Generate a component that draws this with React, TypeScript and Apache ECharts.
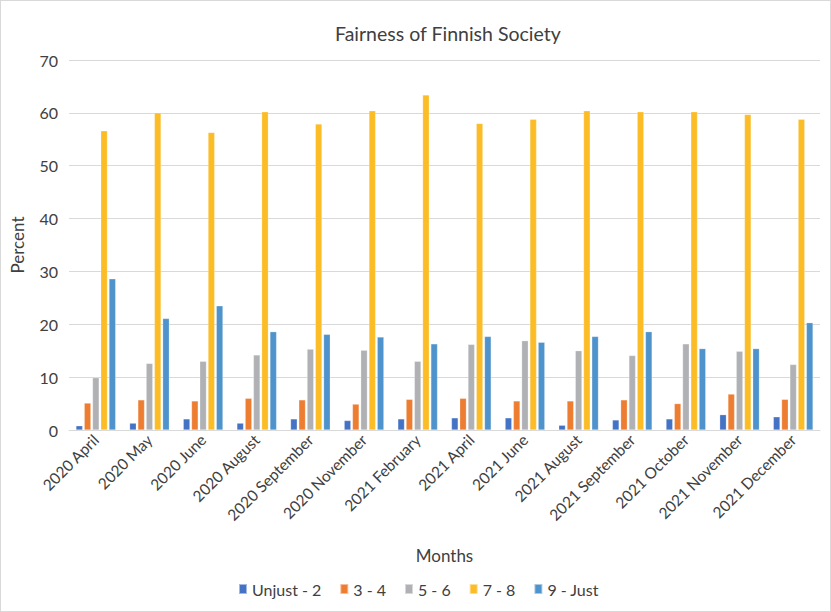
import React, { useEffect, useRef } from "react";
import * as echarts from "echarts";

const categories = [
  "2020 April", "2020 May", "2020 June", "2020 August", "2020 September",
  "2020 November", "2021 February", "2021 April", "2021 June", "2021 August",
  "2021 September", "2021 October", "2021 November", "2021 December",
];
const unjust2 = [0.8, 1.3, 2.1, 1.3, 2.1, 1.8, 2.1, 2.3, 2.3, 0.9, 1.9, 2.1, 2.9, 2.5];
const v34 = [5.1, 5.7, 5.5, 6.0, 5.7, 4.9, 5.8, 6.0, 5.5, 5.5, 5.7, 5.0, 6.8, 5.8];
const v56 = [9.9, 12.6, 13.0, 14.2, 15.3, 15.1, 13.0, 16.2, 16.9, 15.0, 14.1, 16.3, 14.9, 12.4];
const v78 = [56.6, 60.0, 56.3, 60.2, 57.9, 60.4, 63.4, 58.0, 58.8, 60.4, 60.2, 60.2, 59.7, 58.8];
const just9 = [28.6, 21.1, 23.5, 18.6, 18.1, 17.6, 16.3, 17.7, 16.6, 17.7, 18.6, 15.4, 15.4, 20.3];
const seriesNames = ["Unjust - 2", "3 - 4", "5 - 6", "7 - 8", "9 - Just"];
const seriesData = [unjust2, v34, v56, v78, just9];
const colors = ["#4472C4", "#ED7D31", "#B0B1B4", "#FBBC26", "#4E93CB"];

const FONT = "Lato, 'Open Sans', sans-serif";

export default function App() {
  const ref = useRef<HTMLDivElement>(null);
  useEffect(() => {
    document.body.style.margin = "0";
    if (!ref.current) return;
    const chart = echarts.init(ref.current, undefined, { renderer: "svg" });
    chart.setOption({
      animation: false,
      color: colors,
      textStyle: { fontFamily: FONT },
      title: {
        text: "Fairness of Finnish Society",
        left: 329,
        top: 17,
        textStyle: { fontFamily: FONT, fontSize: 19.5, fontWeight: "normal", color: "#404040" },
      },
      legend: {
        bottom: 9,
        left: 232,
        itemWidth: 8,
        itemHeight: 10,
        itemGap: 18,
        icon: "rect",
        textStyle: { fontFamily: FONT, fontSize: 16, color: "#404040" },
        data: seriesNames,
      },
      grid: { left: 67, right: 10, top: 59, bottom: 181, containLabel: false },
      xAxis: {
        type: "category",
        data: categories,
        name: "Months",
        nameLocation: "middle",
        nameGap: 117,
        nameTextStyle: { fontFamily: FONT, fontSize: 17, color: "#404040" },
        axisLine: { lineStyle: { color: "#d9d9d9" } },
        axisTick: { show: false },
        axisLabel: {
          rotate: 45,
          interval: 0,
          margin: 7,
          fontFamily: FONT,
          fontSize: 15.5,
          color: "#404040",
        },
      },
      yAxis: {
        type: "value",
        min: 0,
        max: 70,
        interval: 10,
        name: "Percent",
        nameLocation: "middle",
        nameGap: 43,
        nameTextStyle: { fontFamily: FONT, fontSize: 17, color: "#404040" },
        axisLine: { show: false },
        axisTick: { show: false },
        axisLabel: { fontFamily: FONT, fontSize: 16, color: "#404040", margin: 11 },
        splitLine: { lineStyle: { color: "#d9d9d9" } },
      },
      series: seriesNames.map((name, i) => ({
        name,
        type: "bar",
        data: seriesData[i],
        barGap: "24%",
        barCategoryGap: "26%",
        itemStyle: { borderColor: "rgba(255,255,255,0.5)", borderWidth: 0.5 },
      })),
    });
    return () => chart.dispose();
  }, []);
  return (
    <div
      ref={ref}
      style={{ width: 831, height: 612, boxSizing: "border-box", border: "1px solid #d9d9d9" }}
    />
  );
}
